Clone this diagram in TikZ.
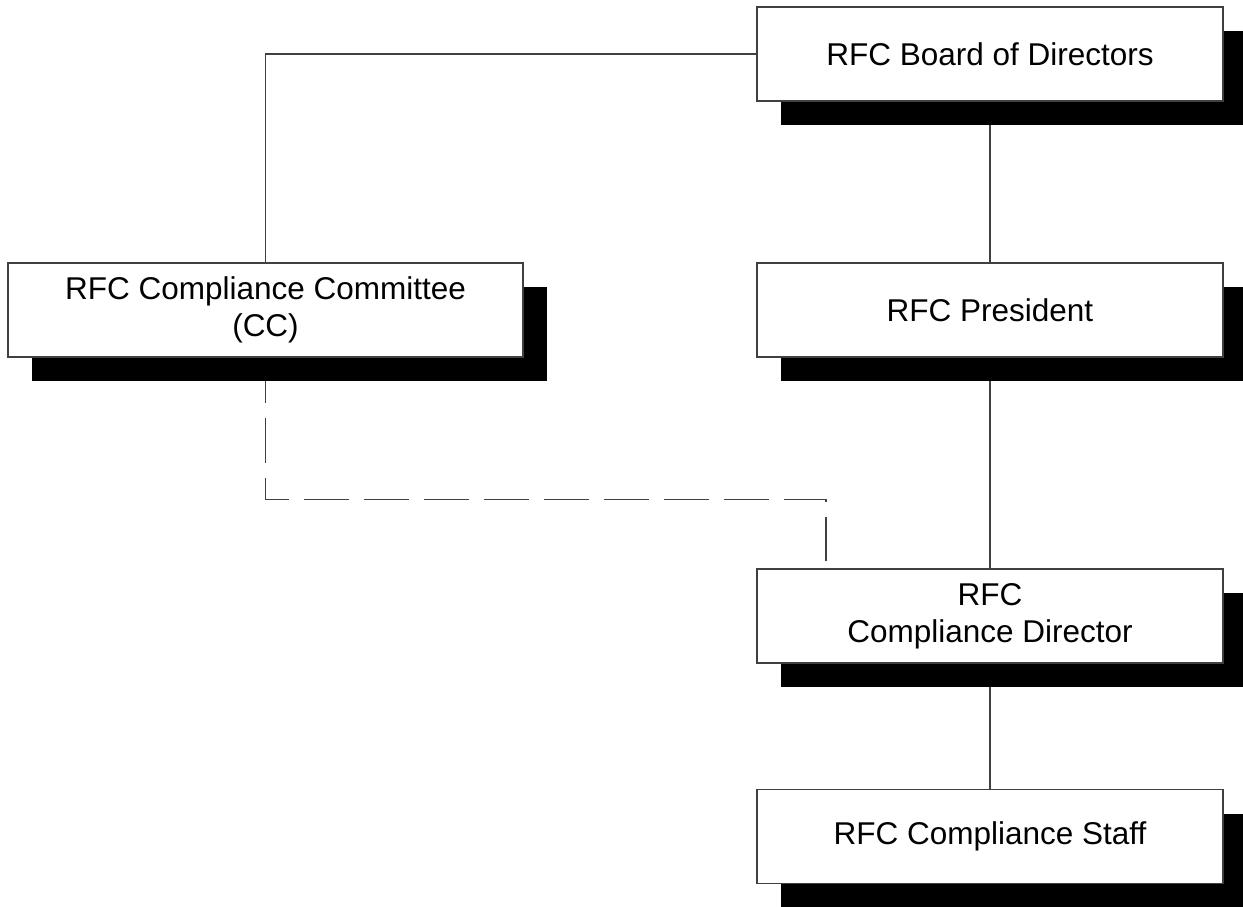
\documentclass[tikz,border=0pt]{standalone}
\usepackage{fontspec}
\setmainfont{Liberation Sans}
\usepackage{tikz}
\usetikzlibrary{shadows}
\usetikzlibrary{backgrounds}

\begin{document}
\begin{tikzpicture}[x=1pt,y=-1pt,
  orgbox/.style={rectangle,draw=black!75,line width=1.2pt,fill=white,
    minimum width=466pt,minimum height=94pt,inner sep=0pt,align=center,
    font=\fontsize{31.5}{37}\selectfont,
    drop shadow={shadow xshift=24pt,shadow yshift=-24pt,fill=black,opacity=1}},
  link/.style={draw=black!75,line width=1.2pt},
  dashed link/.style={link,dash pattern=on 45pt off 15pt}]
\useasboundingbox (0,0) rectangle (1243,907);
%\usetikzlibrary{shadows}
\path (990,54) node(board) [orgbox]{RFC Board of Directors};
\path (265.5,310) node(cc) [orgbox,minimum width=515pt]{RFC Compliance Committee\\(CC)};
\path (990,310) node(pres) [orgbox]{RFC President};
\path (990,616) node(dir) [orgbox]{RFC\\Compliance Director};
\path (990,836.5) node(staff) [orgbox]{RFC Compliance Staff};
\coordinate (dashend) at (826,561);
\begin{scope}[on background layer]
\draw[link] (board.west) -| (cc.north);
\draw[link] (board.south) -- (pres.north);
\draw[link] (pres.south) -- (dir.north);
\draw[link] (dir.south) -- (staff.north);
\draw[dashed link] (cc.south) -- ++(0,142) -| (dashend);
\end{scope}
\end{tikzpicture}
\end{document}
